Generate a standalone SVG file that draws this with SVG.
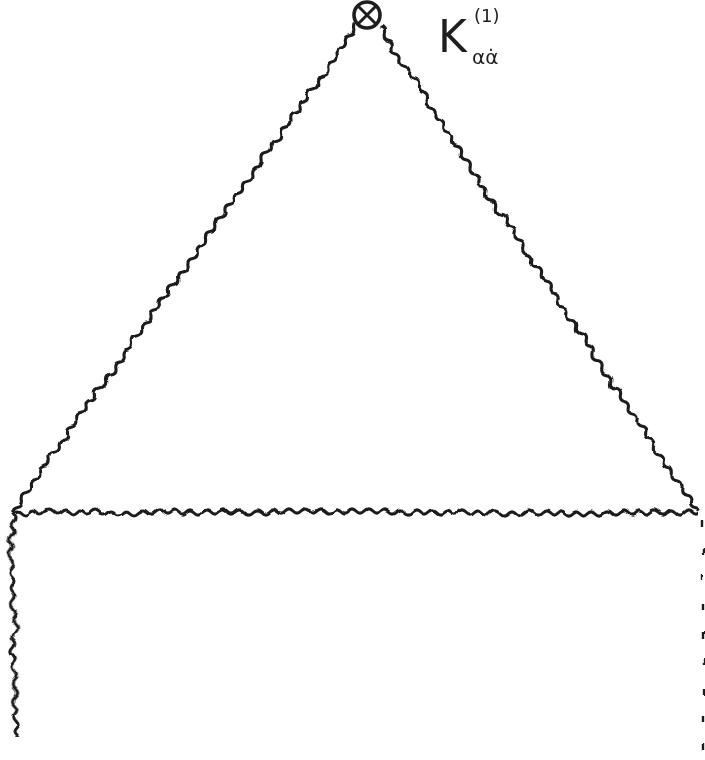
<svg xmlns="http://www.w3.org/2000/svg" xmlns:xlink="http://www.w3.org/1999/xlink" width="705" height="760" viewBox="0 0 705 760">
<style>
.wavy{fill:none;stroke:#1e1e1e;stroke-width:3.1;stroke-linecap:round;stroke-linejoin:round}
.lbl{font-family:"DejaVu Sans","Liberation Sans",sans-serif;fill:#1e1e1e}
</style>
<defs>
<path id="w" class="wavy" d="M0,0 q4,-4 8,0 t8,0 t8,0 t8,0 t8,0 t8,0 t8,0 t8,0 t8,0 t8,0 t8,0 t8,0 t8,0 t8,0 t8,0 t8,0 t8,0 t8,0 t8,0 t8,0 t8,0 t8,0 t8,0 t8,0 t8,0 t8,0 t8,0 t8,0 t8,0 t8,0 t8,0 t8,0 t8,0 t8,0 t8,0 t8,0 t8,0 t8,0 t8,0 t8,0 t8,0 t8,0 t8,0 t8,0 t8,0 t8,0 t8,0 t8,0 t8,0 t8,0 t8,0 t8,0 t8,0 t8,0 t8,0 t8,0 t8,0 t8,0 t8,0 t8,0 t8,0 t8,0 t8,0 t8,0 t8,0 t8,0 t8,0 t8,0 t8,0 t8,0 t8,0 t8,0 t8,0 t8,0 t8,0 t8,0 t8,0 t8,0 t8,0 t8,0 t8,0 t8,0 t8,0 t8,0 t8,0 t8,0 t8,0 t8,0 t8,0 t8,0"/>
<clipPath id="cH" clipPathUnits="userSpaceOnUse"><rect x="0" y="-10" width="686" height="20"/></clipPath>
<clipPath id="cL" clipPathUnits="userSpaceOnUse"><rect x="0" y="-10" width="596" height="20"/></clipPath>
<clipPath id="cR" clipPathUnits="userSpaceOnUse"><rect x="0" y="-10" width="581" height="20"/></clipPath>
<clipPath id="cV" clipPathUnits="userSpaceOnUse"><rect x="0" y="-10" width="226" height="20"/></clipPath>
<filter id="wig" filterUnits="userSpaceOnUse" x="0" y="0" width="705" height="760">
<feTurbulence type="fractalNoise" baseFrequency="0.03" numOctaves="2" seed="5" result="n"/>
<feDisplacementMap in="SourceGraphic" in2="n" scale="9" xChannelSelector="R" yChannelSelector="G"/>
</filter>
</defs>
<rect width="705" height="760" fill="#fff"/>
<g id="connectors" filter="url(#wig)">
<g transform="translate(12,512)"><use xlink:href="#w" href="#w" clip-path="url(#cH)"/></g>
<g transform="translate(12,512) rotate(-54.63)"><use xlink:href="#w" href="#w" clip-path="url(#cL)"/></g>
<g transform="translate(378,26) rotate(56.72)"><use xlink:href="#w" href="#w" clip-path="url(#cR)"/></g>
<g transform="translate(12,512) rotate(89.2)"><use xlink:href="#w" href="#w" clip-path="url(#cV)"/></g>
<path d="M703,520 L703,752" fill="none" stroke="#1e1e1e" stroke-width="2.4" stroke-dasharray="6 22"/>
</g>
<g id="vertex">
<circle cx="367" cy="15" r="13" fill="none" stroke="#1e1e1e" stroke-width="3.6"/>
<path d="M358,6 L376,24 M376,6 L358,24" stroke="#1e1e1e" stroke-width="3" fill="none"/>
</g>
<g id="label">
<text class="lbl" x="438" y="52" font-size="44">K</text>
<text class="lbl" x="474" y="22" font-size="18">(1)</text>
<text class="lbl" x="472" y="64" font-size="20">αα̇</text>
</g>
</svg>
